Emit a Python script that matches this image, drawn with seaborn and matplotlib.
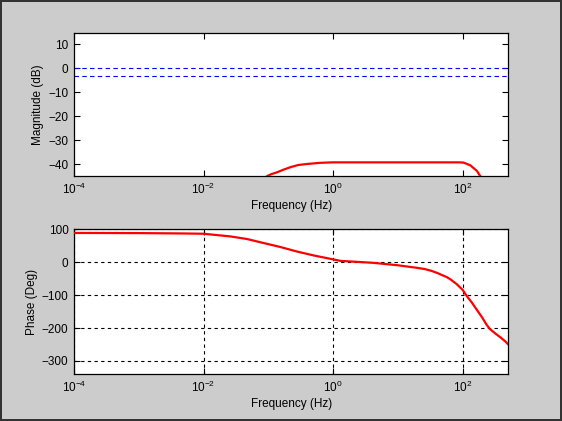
import numpy as np
import pandas as pd
import matplotlib
matplotlib.use("Agg")
import matplotlib.pyplot as plt
import seaborn as sns

# ---- data ----
mag_freq = [0.08, 0.098, 0.112, 0.135, 0.17, 0.22, 0.29, 0.39, 0.63, 1.0, 3.0, 10.0, 30.0, 89.0,
            102.0, 115.0, 132.0, 166.0, 186.0, 205.0]
mag_db = [-46.5, -44.9, -44.2, -43.5, -42.4, -41.3, -40.4, -40.0, -39.5, -39.3, -39.3, -39.3, -39.3, -39.3,
          -39.4, -39.9, -40.6, -42.9, -45.0, -46.5]

phase_freq = [1e-4, 1e-3, 0.0044, 0.01, 0.0257, 0.0468, 0.0832, 0.151, 0.275, 0.50, 1.0, 1.29,
              4.17, 9.55, 19.5, 26.0, 33.0, 40.0, 47.0, 56.2, 64.6, 81.3, 100.0, 115.0, 138.0, 166.0,
              200.0, 234.0, 263.0, 316.0, 380.0, 457.0, 510.0]
phase_deg = [89.5, 89.0, 88.0, 87.0, 79.0, 71.0, 59.0, 47.0, 33.0, 21.0, 9.0, 4.5,
             -1.5, -8.5, -16.6, -20.5, -26.0, -32.0, -38.0, -44.5, -51.7, -66.8, -84.0, -102.0, -122.0, -145.0,
             -168.0, -190.0, -203.0, -216.0, -228.0, -241.0, -251.0]

mag_ticks = [-40, -30, -20, -10, 0, 10]
phase_ticks = [-300, -200, -100, 0, 100]
freq_ticks = [1e-4, 1e-2, 1e0, 1e2]
freq_labels = [r"$10^{-4}$", r"$10^{-2}$", r"$10^{0}$", r"$10^{2}$"]
ref_levels = [0, -3]

sns.set_style("ticks")
plt.rcParams["font.family"] = ["Liberation Sans", "DejaVu Sans"]
plt.rcParams["mathtext.fontset"] = "custom"
plt.rcParams["mathtext.rm"] = "Liberation Sans"
plt.rcParams["mathtext.it"] = "Liberation Sans"
plt.rcParams["mathtext.default"] = "regular"
plt.rcParams["text.color"] = "black"
plt.rcParams["axes.labelcolor"] = "black"

fig = plt.figure(figsize=(5.62, 4.21), dpi=100, facecolor="#cccccc",
                 edgecolor="#333333", linewidth=1.5)
ax1 = fig.add_axes([0.1317, 0.582, 0.7731, 0.3408])
ax2 = fig.add_axes([0.1317, 0.1116, 0.7731, 0.3433])

mag_df = pd.DataFrame({"f": mag_freq, "db": mag_db})
ph_df = pd.DataFrame({"f": phase_freq, "deg": phase_deg})

for lvl in ref_levels:
    ax1.axhline(lvl, color="blue", lw=0.8, ls=(0, (4, 3)), zorder=1)
sns.lineplot(data=mag_df, x="f", y="db", ax=ax1, color="red", lw=1.6, zorder=3)
sns.lineplot(data=ph_df, x="f", y="deg", ax=ax2, color="red", lw=1.6, zorder=3)

for ax, yt, ylim, ylabel in [(ax1, mag_ticks, (-45, 15), "Magnitude (dB)"),
                             (ax2, phase_ticks, (-340, 100), "Phase (Deg)")]:
    ax.set_xscale("log")
    ax.set_xlim(1e-4, 510)
    ax.set_ylim(*ylim)
    ax.set_xticks(freq_ticks)
    ax.set_xticklabels(freq_labels)
    ax.xaxis.set_minor_locator(matplotlib.ticker.NullLocator())
    ax.set_yticks(yt)
    ax.set_xlabel("Frequency (Hz)", fontsize=8.5, labelpad=2, color="black")
    ax.set_ylabel(ylabel, fontsize=8.5, labelpad=3, color="black")
    ax.tick_params(direction="in", top=True, right=True, length=4, width=0.8,
                   labelsize=8.5, pad=4, colors="black")
    ax.set_facecolor("white")
    for s in ax.spines.values():
        s.set_visible(True)
        s.set_color("black")
        s.set_linewidth(0.9)

ax2.grid(True, which="major", color="black", ls=(0, (3, 3)), lw=0.8)
ax2.set_axisbelow(True)

fig.savefig("out.png", dpi=100, facecolor=fig.get_facecolor(), edgecolor=fig.get_edgecolor())
